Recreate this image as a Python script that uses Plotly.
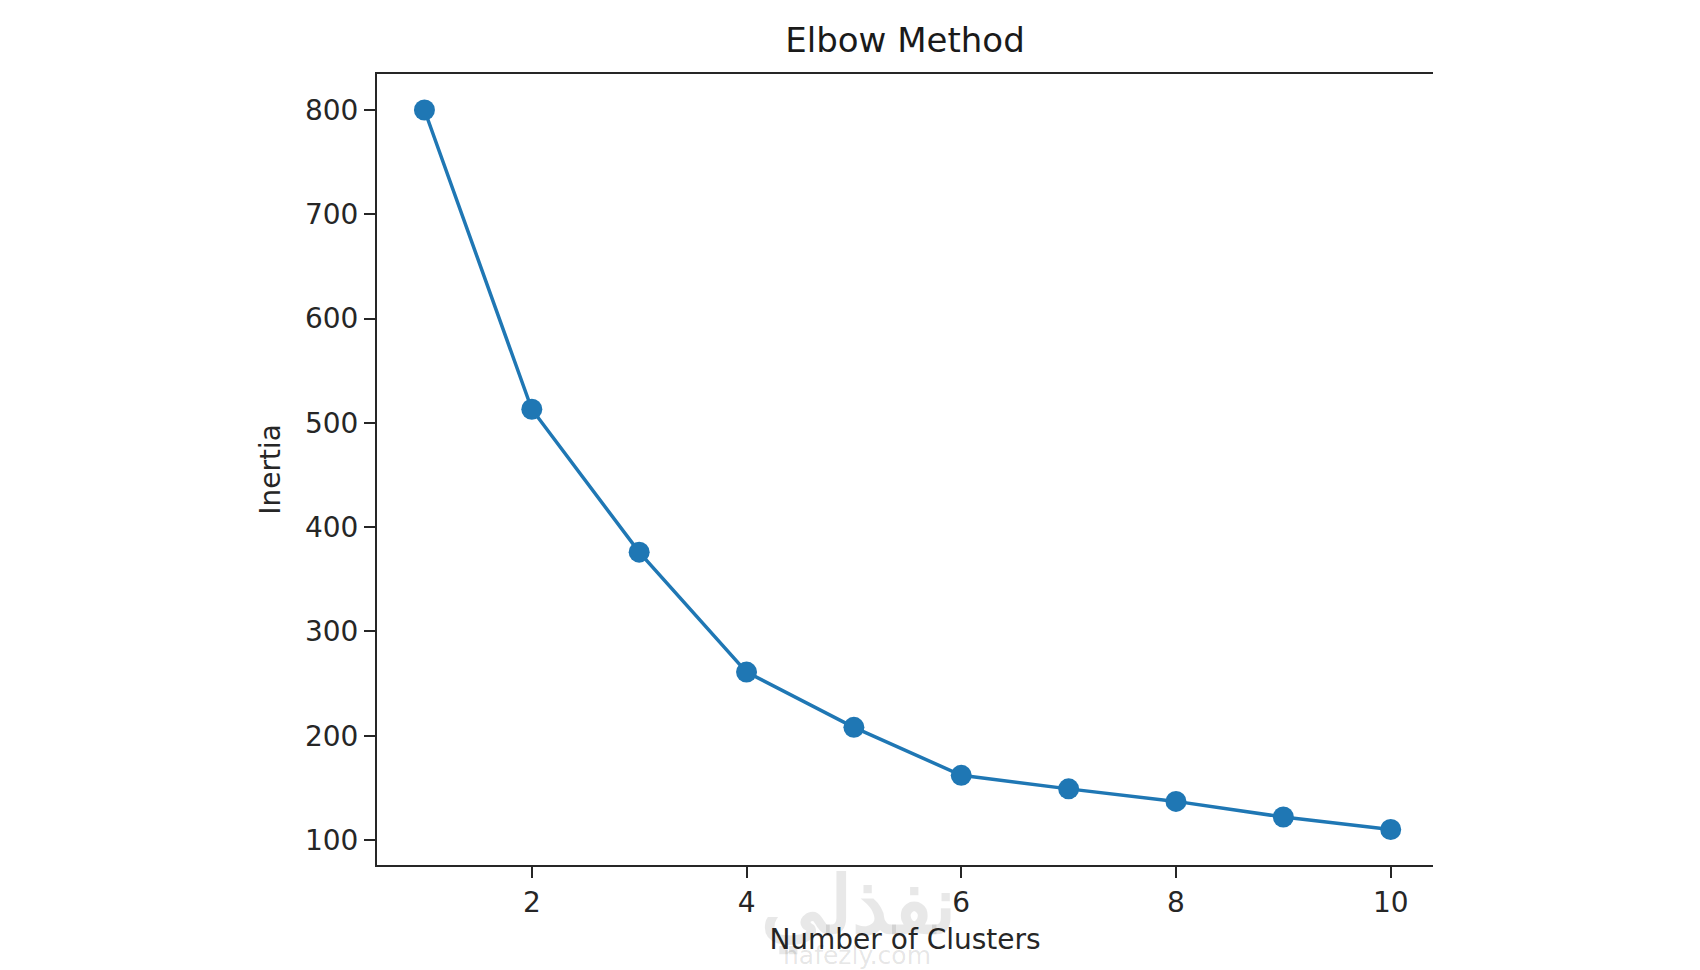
import plotly.graph_objects as go

# inertia per cluster count
clusters = [1, 2, 3, 4, 5, 6, 7, 8, 9, 10]
inertia = [800, 513, 376, 261, 208, 162, 149, 137, 122, 110]

x_ticks = [2, 4, 6, 8, 10]
y_ticks = [100, 200, 300, 400, 500, 600, 700, 800]

blue = '#1f77b4'
ink = '#262626'
font = 'DejaVu Sans'

fig = go.Figure()
fig.add_scatter(x=clusters, y=inertia, mode='lines+markers',
                line=dict(color=blue, width=3.5),
                marker=dict(color=blue, size=21))

fig.update_layout(
    width=1700, height=970,
    margin=dict(l=369, r=275, t=66, b=113),
    paper_bgcolor='white', plot_bgcolor='white',
    showlegend=False,
    font=dict(family=font, size=28, color=ink),
    title=dict(text='Elbow Method', x=0.5, xref='paper', xanchor='center',
               y=1 - 32 / 970, yref='container', yanchor='middle',
               font=dict(family=font, size=34, color='#1a1a1a')),
)

fig.update_xaxes(range=[0.558, 10.394], tickvals=x_ticks, showgrid=False, zeroline=False,
                 showline=True, linecolor=ink, linewidth=2, mirror=True,
                 ticks='outside', ticklen=11, tickwidth=2, tickcolor=ink,
                 tickfont=dict(family=font, size=28, color=ink),
                 title=dict(text='Number of Clusters', standoff=12,
                            font=dict(family=font, size=28, color=ink)))
fig.update_yaxes(range=[76, 834.5], tickvals=y_ticks, showgrid=False, zeroline=False,
                 showline=True, linecolor=ink, linewidth=2,
                 ticks='outside', ticklen=11, tickwidth=2, tickcolor=ink,
                 tickfont=dict(family=font, size=28, color=ink),
                 title=dict(text='Inertia', standoff=16,
                            font=dict(family=font, size=28, color=ink)))

# faint see-through site watermark at the bottom
plot_w = 1700 - 369 - 275
plot_h = 970 - 66 - 113
fig.add_annotation(text='<b>نفذلي</b>', xref='paper', yref='paper',
                   x=(850 - 369) / plot_w, y=-(893 - 857) / plot_h,
                   xanchor='center', yanchor='middle', showarrow=False,
                   font=dict(family='Noto Sans', size=80, color='rgba(0,0,0,0.09)'))
fig.add_annotation(text='nafezly.com', xref='paper', yref='paper',
                   x=(849 - 369) / plot_w, y=-(947 - 857) / plot_h,
                   xanchor='center', yanchor='middle', showarrow=False,
                   font=dict(family=font, size=25, color='rgba(0,0,0,0.11)'))

fig.write_html("out.html")
